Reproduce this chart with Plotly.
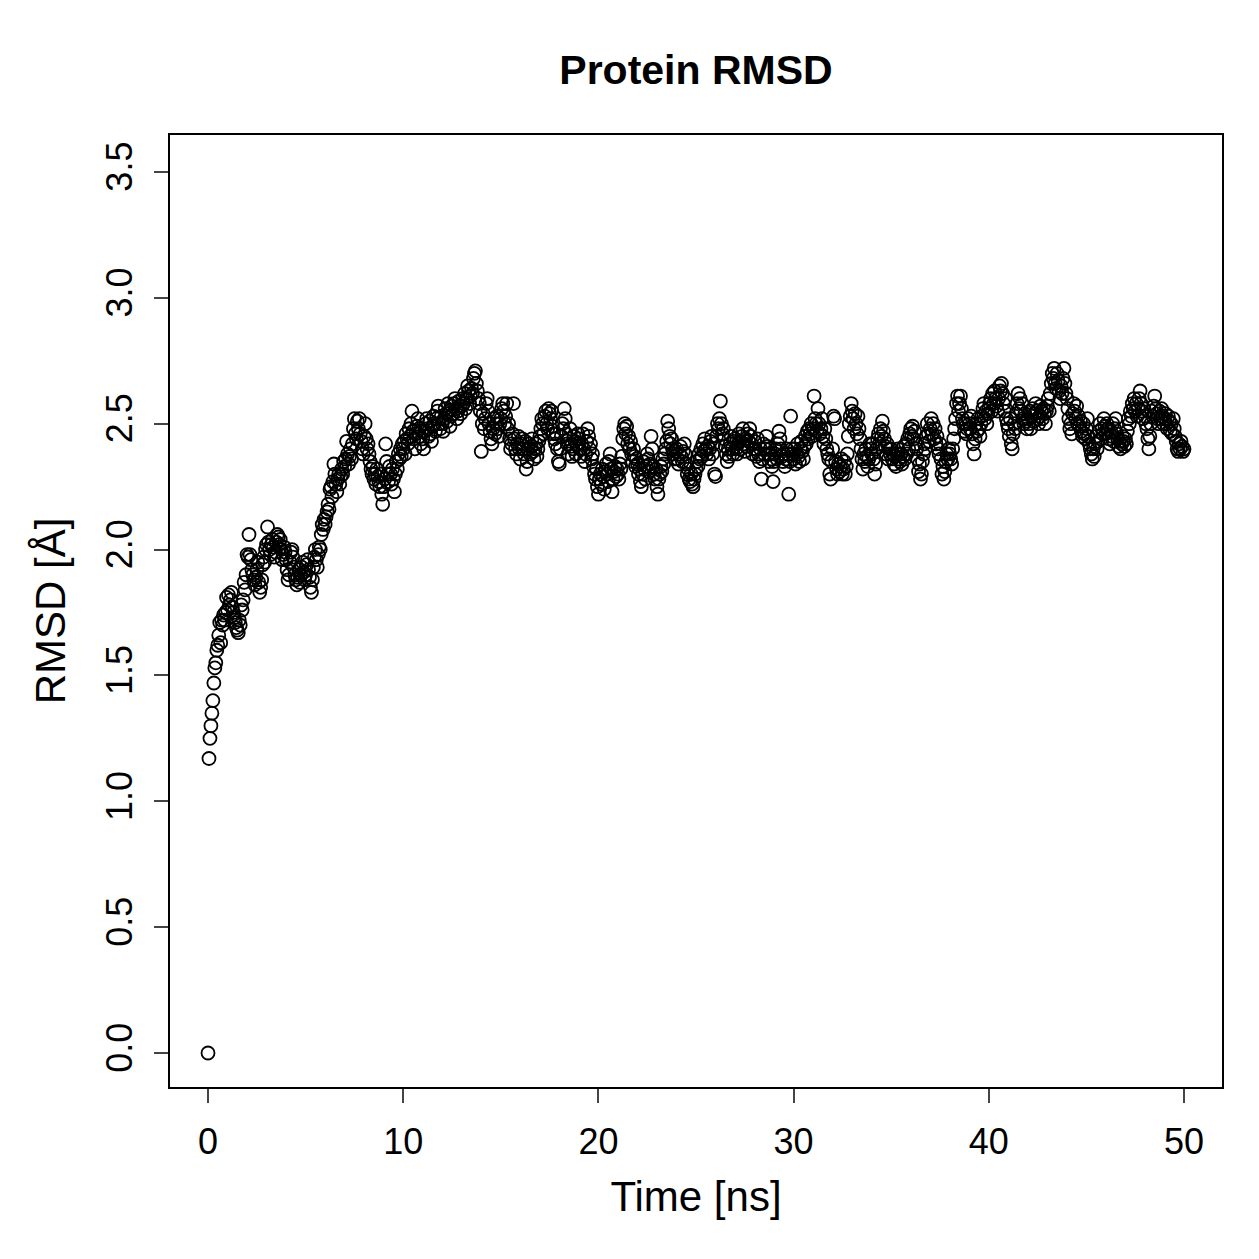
import plotly.graph_objects as go

# RMSD values in Angstrom, one row per ns (0.05 ns steps)
rmsd_rows = [
    [0.00, 1.17, 1.25, 1.30, 1.35, 1.40, 1.47, 1.53, 1.55, 1.60, 1.62, 1.66, 1.71, 1.63, 1.72, 1.70, 1.74, 1.72, 1.75, 1.81],
    [1.76, 1.82, 1.78, 1.80, 1.83, 1.77, 1.75, 1.73, 1.71, 1.69, 1.68, 1.67, 1.72, 1.70, 1.78, 1.76, 1.80, 1.87, 1.84, 1.90],
    [1.98, 1.97, 2.06, 1.98, 1.96, 1.92, 1.90, 1.88, 1.86, 1.89, 1.92, 1.95, 1.87, 1.83, 1.85, 1.88, 1.94, 1.97, 1.95, 2.00],
    [2.02, 2.09, 2.03, 2.00, 1.98, 2.02, 2.04, 2.01, 1.97, 1.99, 2.03, 2.06, 2.05, 2.02, 2.04, 2.00, 1.96, 1.98, 2.01, 1.99],
    [1.96, 1.92, 1.88, 1.90, 1.95, 1.99, 2.00, 1.97, 1.93, 1.90, 1.88, 1.86, 1.89, 1.92, 1.87, 1.90, 1.93, 1.95, 1.91, 1.88],
    [1.90, 1.94, 1.96, 1.92, 1.89, 1.85, 1.83, 1.88, 1.93, 1.97, 2.00, 1.96, 1.93, 1.98, 2.01, 2.00, 2.06, 2.10, 2.08, 2.12],
    [2.10, 2.13, 2.15, 2.18, 2.16, 2.24, 2.25, 2.21, 2.27, 2.34, 2.30, 2.26, 2.23, 2.28, 2.30, 2.26, 2.29, 2.32, 2.30, 2.35],
    [2.33, 2.36, 2.43, 2.38, 2.34, 2.37, 2.40, 2.36, 2.42, 2.48, 2.52, 2.46, 2.44, 2.51, 2.48, 2.52, 2.46, 2.43, 2.40, 2.38],
    [2.45, 2.50, 2.44, 2.40, 2.42, 2.38, 2.35, 2.32, 2.30, 2.33, 2.28, 2.30, 2.26, 2.32, 2.29, 2.27, 2.25, 2.30, 2.22, 2.18],
    [2.25, 2.28, 2.42, 2.35, 2.30, 2.27, 2.33, 2.30, 2.26, 2.32, 2.28, 2.23, 2.30, 2.35, 2.32, 2.38, 2.36, 2.40, 2.37, 2.42],
    [2.40, 2.43, 2.38, 2.46, 2.44, 2.42, 2.48, 2.45, 2.50, 2.55, 2.47, 2.44, 2.40, 2.46, 2.49, 2.52, 2.48, 2.45, 2.42, 2.47],
    [2.44, 2.40, 2.47, 2.50, 2.52, 2.48, 2.45, 2.51, 2.46, 2.43, 2.49, 2.53, 2.50, 2.47, 2.52, 2.55, 2.57, 2.50, 2.48, 2.53],
    [2.50, 2.47, 2.52, 2.56, 2.54, 2.51, 2.58, 2.55, 2.49, 2.53, 2.57, 2.54, 2.58, 2.60, 2.56, 2.52, 2.55, 2.59, 2.57, 2.54],
    [2.57, 2.60, 2.58, 2.62, 2.56, 2.60, 2.65, 2.63, 2.58, 2.61, 2.64, 2.62, 2.68, 2.70, 2.71, 2.66, 2.63, 2.60, 2.58, 2.55],
    [2.39, 2.50, 2.54, 2.48, 2.52, 2.58, 2.60, 2.55, 2.50, 2.47, 2.44, 2.42, 2.48, 2.52, 2.46, 2.50, 2.53, 2.48, 2.45, 2.50],
    [2.52, 2.56, 2.58, 2.55, 2.50, 2.53, 2.58, 2.48, 2.50, 2.44, 2.40, 2.42, 2.46, 2.58, 2.44, 2.40, 2.38, 2.42, 2.45, 2.40],
    [2.36, 2.42, 2.44, 2.40, 2.38, 2.43, 2.32, 2.35, 2.40, 2.42, 2.38, 2.41, 2.44, 2.39, 2.36, 2.40, 2.42, 2.37, 2.40, 2.43],
    [2.45, 2.48, 2.52, 2.50, 2.46, 2.53, 2.55, 2.50, 2.48, 2.56, 2.54, 2.52, 2.55, 2.49, 2.46, 2.44, 2.42, 2.46, 2.40, 2.35],
    [2.34, 2.40, 2.45, 2.50, 2.48, 2.56, 2.52, 2.46, 2.42, 2.38, 2.44, 2.48, 2.41, 2.37, 2.40, 2.45, 2.43, 2.38, 2.42, 2.46],
    [2.44, 2.40, 2.37, 2.42, 2.46, 2.40, 2.35, 2.38, 2.43, 2.48, 2.45, 2.40, 2.42, 2.36, 2.38, 2.33, 2.30, 2.28, 2.32, 2.25],
    [2.22, 2.28, 2.30, 2.26, 2.32, 2.29, 2.24, 2.31, 2.34, 2.30, 2.27, 2.35, 2.38, 2.32, 2.23, 2.28, 2.31, 2.33, 2.29, 2.32],
    [2.30, 2.28, 2.34, 2.32, 2.37, 2.44, 2.48, 2.50, 2.46, 2.49, 2.42, 2.45, 2.40, 2.43, 2.38, 2.35, 2.40, 2.37, 2.33, 2.36],
    [2.34, 2.30, 2.32, 2.27, 2.25, 2.30, 2.35, 2.32, 2.28, 2.33, 2.38, 2.36, 2.31, 2.34, 2.45, 2.40, 2.33, 2.30, 2.28, 2.32],
    [2.25, 2.22, 2.28, 2.30, 2.33, 2.31, 2.36, 2.34, 2.38, 2.40, 2.43, 2.51, 2.48, 2.45, 2.42, 2.44, 2.40, 2.38, 2.36, 2.39],
    [2.40, 2.36, 2.34, 2.38, 2.41, 2.37, 2.35, 2.39, 2.42, 2.38, 2.34, 2.30, 2.32, 2.28, 2.27, 2.30, 2.26, 2.25, 2.28, 2.30],
    [2.32, 2.35, 2.33, 2.38, 2.36, 2.40, 2.37, 2.42, 2.39, 2.44, 2.40, 2.38, 2.41, 2.36, 2.40, 2.43, 2.45, 2.38, 2.42, 2.30],
    [2.29, 2.45, 2.50, 2.48, 2.52, 2.59, 2.50, 2.46, 2.48, 2.44, 2.41, 2.38, 2.35, 2.40, 2.37, 2.42, 2.45, 2.40, 2.38, 2.43],
    [2.44, 2.40, 2.38, 2.42, 2.46, 2.43, 2.40, 2.45, 2.48, 2.42, 2.39, 2.44, 2.41, 2.46, 2.43, 2.48, 2.45, 2.42, 2.38, 2.40],
    [2.43, 2.40, 2.37, 2.44, 2.38, 2.35, 2.40, 2.28, 2.36, 2.42, 2.38, 2.40, 2.45, 2.41, 2.38, 2.35, 2.40, 2.36, 2.33, 2.27],
    [2.35, 2.38, 2.40, 2.36, 2.42, 2.47, 2.44, 2.40, 2.37, 2.35, 2.38, 2.33, 2.36, 2.40, 2.38, 2.22, 2.35, 2.53, 2.40, 2.38],
    [2.36, 2.40, 2.34, 2.38, 2.42, 2.37, 2.35, 2.40, 2.43, 2.39, 2.36, 2.41, 2.45, 2.42, 2.47, 2.44, 2.48, 2.46, 2.50, 2.45],
    [2.48, 2.61, 2.52, 2.50, 2.47, 2.56, 2.50, 2.46, 2.48, 2.52, 2.45, 2.42, 2.48, 2.44, 2.40, 2.38, 2.36, 2.30, 2.28, 2.35],
    [2.40, 2.53, 2.52, 2.35, 2.32, 2.30, 2.34, 2.31, 2.33, 2.36, 2.30, 2.32, 2.35, 2.30, 2.33, 2.38, 2.45, 2.50, 2.53, 2.58],
    [2.55, 2.52, 2.48, 2.54, 2.50, 2.46, 2.53, 2.48, 2.44, 2.40, 2.36, 2.32, 2.38, 2.35, 2.40, 2.37, 2.33, 2.36, 2.42, 2.40],
    [2.38, 2.42, 2.36, 2.30, 2.34, 2.40, 2.44, 2.46, 2.42, 2.48, 2.45, 2.51, 2.47, 2.44, 2.41, 2.38, 2.42, 2.36, 2.40, 2.38],
    [2.40, 2.36, 2.38, 2.34, 2.37, 2.33, 2.38, 2.40, 2.36, 2.35, 2.38, 2.34, 2.37, 2.41, 2.36, 2.42, 2.38, 2.44, 2.40, 2.46],
    [2.48, 2.45, 2.49, 2.44, 2.47, 2.42, 2.40, 2.36, 2.31, 2.34, 2.28, 2.30, 2.35, 2.38, 2.42, 2.40, 2.45, 2.50, 2.46, 2.43],
    [2.48, 2.52, 2.46, 2.50, 2.44, 2.48, 2.42, 2.45, 2.40, 2.38, 2.42, 2.36, 2.30, 2.33, 2.28, 2.31, 2.35, 2.38, 2.36, 2.40],
    [2.38, 2.36, 2.34, 2.40, 2.44, 2.48, 2.52, 2.58, 2.61, 2.55, 2.58, 2.61, 2.56, 2.52, 2.50, 2.47, 2.50, 2.46, 2.48, 2.52],
    [2.50, 2.48, 2.53, 2.46, 2.42, 2.38, 2.44, 2.50, 2.47, 2.52, 2.48, 2.45, 2.50, 2.53, 2.56, 2.58, 2.52, 2.55, 2.50, 2.54],
    [2.56, 2.58, 2.60, 2.55, 2.62, 2.58, 2.63, 2.60, 2.57, 2.55, 2.60, 2.65, 2.63, 2.66, 2.62, 2.58, 2.55, 2.60, 2.52, 2.50],
    [2.48, 2.45, 2.52, 2.42, 2.40, 2.46, 2.50, 2.48, 2.54, 2.58, 2.62, 2.56, 2.60, 2.55, 2.58, 2.52, 2.50, 2.54, 2.51, 2.48],
    [2.52, 2.50, 2.55, 2.48, 2.53, 2.56, 2.51, 2.54, 2.58, 2.55, 2.52, 2.50, 2.53, 2.57, 2.55, 2.52, 2.56, 2.54, 2.50, 2.55],
    [2.57, 2.60, 2.55, 2.62, 2.66, 2.70, 2.68, 2.72, 2.66, 2.64, 2.70, 2.67, 2.63, 2.60, 2.65, 2.62, 2.68, 2.72, 2.66, 2.62],
    [2.60, 2.56, 2.52, 2.48, 2.50, 2.46, 2.54, 2.58, 2.55, 2.52, 2.57, 2.50, 2.53, 2.49, 2.51, 2.47, 2.45, 2.50, 2.46, 2.44],
    [2.48, 2.52, 2.45, 2.42, 2.40, 2.38, 2.36, 2.40, 2.37, 2.42, 2.45, 2.40, 2.43, 2.47, 2.50, 2.44, 2.48, 2.46, 2.52, 2.49],
    [2.46, 2.50, 2.48, 2.44, 2.42, 2.47, 2.45, 2.50, 2.43, 2.48, 2.52, 2.46, 2.44, 2.41, 2.43, 2.40, 2.42, 2.45, 2.43, 2.41],
    [2.44, 2.42, 2.47, 2.52, 2.50, 2.55, 2.53, 2.58, 2.56, 2.60, 2.55, 2.58, 2.53, 2.56, 2.60, 2.63, 2.58, 2.55, 2.52, 2.56],
    [2.53, 2.50, 2.48, 2.44, 2.40, 2.45, 2.50, 2.55, 2.53, 2.57, 2.61, 2.56, 2.54, 2.52, 2.50, 2.55, 2.52, 2.56, 2.53, 2.50],
    [2.52, 2.54, 2.50, 2.48, 2.53, 2.51, 2.47, 2.50, 2.46, 2.52, 2.48, 2.45, 2.43, 2.40, 2.39, 2.42, 2.40, 2.43, 2.41, 2.39],
    [2.40],
]
rmsd = [v for row in rmsd_rows for v in row]
time_step_ns = 0.05
time_ns = [round(i * time_step_ns, 2) for i in range(len(rmsd))]

x_ticks = [0, 10, 20, 30, 40, 50]
y_ticks = [0.0, 0.5, 1.0, 1.5, 2.0, 2.5, 3.0, 3.5]
y_tick_labels = ["0.0", "0.5", "1.0", "1.5", "2.0", "2.5", "3.0", "3.5"]

FONT = "Liberation Sans, Arial, Helvetica, sans-serif"

fig = go.Figure(
    go.Scatter(
        x=time_ns,
        y=rmsd,
        mode="markers",
        marker=dict(symbol="circle-open", size=13, color="black",
                    line=dict(width=1.8, color="black")),
        showlegend=False,
    )
)

fig.update_layout(
    width=1259, height=1259,
    paper_bgcolor="white", plot_bgcolor="white",
    margin=dict(l=170, r=37, t=135, b=172),
    font=dict(family=FONT, size=36, color="black"),
    title=dict(text="<b>Protein RMSD</b>", x=(170 + 1222) / 2 / 1259, xanchor="center",
               y=1 - 70 / 1259, yanchor="middle", font=dict(size=41)),
)
fig.update_xaxes(
    range=[-1.947, 51.947], tickvals=x_ticks, ticks="outside", ticklen=14, tickwidth=2,
    ticklabelstandoff=8,
    showline=True, mirror=True, linecolor="black", linewidth=2, showgrid=False, zeroline=False,
    tickfont=dict(size=36), title=dict(text="Time [ns]", font=dict(size=42), standoff=20),
)
fig.update_yaxes(
    range=[-0.135, 3.647], tickvals=y_ticks, ticktext=y_tick_labels, ticks="outside",
    ticklen=14, tickwidth=2, tickangle=-90, ticklabelstandoff=8,
    showline=True, mirror=True, linecolor="black", linewidth=2, showgrid=False, zeroline=False,
    tickfont=dict(size=36), title=dict(text="RMSD [Å]", font=dict(size=42), standoff=20),
)

fig.write_html("out.html")
